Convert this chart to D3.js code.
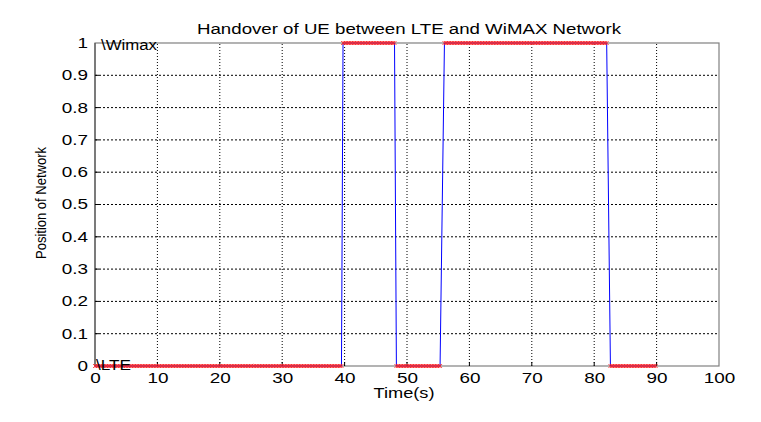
<!DOCTYPE html>
<html><head><meta charset="utf-8">
<script src="https://cdn.jsdelivr.net/npm/d3@7"></script>
<style>body{margin:0;background:#fff}svg{display:block}text{font-family:Arial,"Liberation Sans",sans-serif}</style>
</head><body><svg id="c" width="761" height="422"></svg>
<script>
// Network state segments (0 = LTE, 1 = WiMAX)
const segStart = [0, 39.75, 48.3, 56.0, 82.6];
const segEnd   = [39.5, 48.0, 55.3, 82.0, 90.0];
const segState = [0, 1, 0, 1, 0];
const sampleStep = 0.25;
const xTicks = [0,10,20,30,40,50,60,70,80,90,100];
const yTicks = [0,0.1,0.2,0.3,0.4,0.5,0.6,0.7,0.8,0.9,1];
const title = "Handover of UE between LTE and WiMAX Network";

const data = [];
segStart.forEach((s,i)=>{
  for(let t=s; t<=segEnd[i]+1e-9; t+=sampleStep) data.push({t:+t.toFixed(2), v:segState[i]});
});

const svg = d3.select("#c");
const x = d3.scaleLinear().domain([0,100]).range([95,719]);
const y = d3.scaleLinear().domain([0,1]).range([366,43]);
const SX = 1.35;

// grid
svg.append("g").selectAll("line").data(xTicks.slice(1,-1)).join("line")
  .attr("x1",d=>x(d)).attr("x2",d=>x(d)).attr("y1",y(0)).attr("y2",y(1))
  .attr("stroke","#000").attr("stroke-width",1).attr("stroke-dasharray","1,2");
svg.append("g").selectAll("line").data(yTicks.slice(1,-1)).join("line")
  .attr("y1",d=>y(d)).attr("y2",d=>y(d)).attr("x1",x(0)).attr("x2",x(100))
  .attr("stroke","#000").attr("stroke-width",1).attr("stroke-dasharray","2,2");

// box
svg.append("rect").attr("x",x(0)).attr("y",y(1)).attr("width",x(100)-x(0)).attr("height",y(0)-y(1))
  .attr("fill","none").attr("stroke","#808080").attr("stroke-width",1.2);
svg.append("line").attr("x1",x(0)).attr("x2",x(0)).attr("y1",y(0)).attr("y2",y(1)).attr("stroke","#444");

// axes
const xa = svg.append("g").attr("transform",`translate(0,${y(0)})`)
  .call(d3.axisBottom(x).tickValues(xTicks).tickSize(0).tickPadding(7).tickFormat(d3.format("d")));
const ya = svg.append("g").attr("transform",`translate(${x(0)},0)`)
  .call(d3.axisLeft(y).tickValues(yTicks).tickSize(0).tickPadding(7).tickFormat(d=>d===0?"0":d===1?"1":d3.format(".1f")(d)));
[xa,ya].forEach(a=>{a.select(".domain").remove();a.selectAll("text").attr("font-size",14).attr("fill","#000")
  .style("font-family","Arial,'Liberation Sans',sans-serif");});
xa.selectAll("text").attr("transform",`scale(${SX},1)`).attr("x",0);
ya.selectAll("text").attr("transform",`translate(-7,0) scale(${SX},1)`).attr("x",0);
// tick marks inside
svg.append("g").selectAll("line").data(xTicks.slice(1,-1)).join("line")
  .attr("x1",d=>x(d)).attr("x2",d=>x(d)).attr("y1",y(0)).attr("y2",y(0)-4).attr("stroke","#000");
svg.append("g").selectAll("line").data(yTicks.slice(1,-1)).join("line")
  .attr("y1",d=>y(d)).attr("y2",d=>y(d)).attr("x1",x(0)).attr("x2",x(0)+4).attr("stroke","#000");

// line
svg.append("path").datum(data).attr("fill","none").attr("stroke","#0000ff").attr("stroke-width",1)
  .attr("d",d3.line().x(d=>x(d.t)).y(d=>y(d.v)));
// x markers
const m=2;
svg.append("path").attr("fill","none").attr("stroke","#ff2020").attr("stroke-width",0.8)
  .attr("d",data.map(d=>{const px=x(d.t),py=y(d.v);return `M${px-m},${py-m}L${px+m},${py+m}M${px-m},${py+m}L${px+m},${py-m}`;}).join(""));

// labels
svg.append("text").attr("x",101).attr("y",50).attr("font-size",14)
  .attr("textLength",56).attr("lengthAdjust","spacingAndGlyphs").text("\\Wimax");
svg.append("text").attr("x",96).attr("y",370).attr("font-size",14)
  .attr("textLength",35).attr("lengthAdjust","spacingAndGlyphs").text("\\LTE");
svg.append("text").attr("x",409).attr("y",34).attr("text-anchor","middle").attr("font-size",14)
  .attr("textLength",424).attr("lengthAdjust","spacingAndGlyphs").text(title);
svg.append("text").attr("x",404).attr("y",398).attr("text-anchor","middle").attr("font-size",14)
  .attr("textLength",61).attr("lengthAdjust","spacingAndGlyphs").text("Time(s)");
svg.append("text").attr("transform","translate(46,203) rotate(-90)").attr("text-anchor","middle")
  .attr("font-size",14).style("font-family","'Liberation Sans Narrow','Arial Narrow',Arial,sans-serif")
  .attr("textLength",112).attr("lengthAdjust","spacingAndGlyphs").text("Position of Network");
</script></body></html>
